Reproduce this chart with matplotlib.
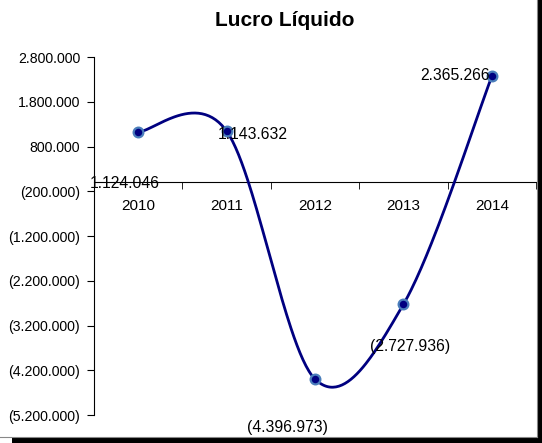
import numpy as np
import matplotlib
matplotlib.use("Agg")
import matplotlib.pyplot as plt
from matplotlib.patches import Rectangle
from matplotlib.lines import Line2D
from matplotlib.ticker import FuncFormatter, FixedLocator

plt.rcParams['font.family'] = ['Liberation Sans', 'DejaVu Sans']

years = ["2010", "2011", "2012", "2013", "2014"]
lucro = [1124046, 1143632, -4396973, -2727936, 2365266]
# where each data label sits, relative to its point (pixels)
label_offsets = [(-13, -52), (26, -3), (-28, -48), (7, -42), (-37, 1)]


def fmt(v):
    s = f"{abs(v):,.0f}".replace(",", ".")
    return f"({s})" if v < 0 else s


# Excel style smoothed line: Bezier segments with Catmull-Rom tangents
def smooth(xs, ys, n=60):
    pts = np.column_stack([xs, ys]).astype(float)
    ext = np.vstack([pts[0], pts, pts[-1]])
    out = []
    for i in range(len(pts) - 1):
        p0, p1 = ext[i + 1], ext[i + 2]
        c1 = p0 + (ext[i + 2] - ext[i]) / 6
        c2 = p1 - (ext[i + 3] - ext[i + 1]) / 6
        t = np.linspace(0, 1, n)[:, None]
        seg = (1 - t)**3 * p0 + 3 * (1 - t)**2 * t * c1 + 3 * (1 - t) * t**2 * c2 + t**3 * p1
        out.append(seg)
    out = np.vstack(out)
    return out[:, 0], out[:, 1]


x = np.arange(len(years))
sx, sy = smooth(x, lucro)

fig = plt.figure(figsize=(5.42, 4.43), dpi=100)
ax = fig.add_axes([94/542, 1 - 415/443, (536 - 94)/542, (415 - 57)/443])

ax.plot(sx, sy, color='#000080', lw=2, zorder=3)
ax.plot(x, lucro, 'o', ms=7, mfc='#000080', mec='#4A7EBB', mew=1.6, zorder=4)

for xi, v, off in zip(x, lucro, label_offsets):
    ax.annotate(fmt(v), (xi, v), xytext=off, textcoords='offset pixels',
                ha='center', va='center', fontsize=11.3, color='black', zorder=5)

ax.set_xlim(-0.5, 4.5)
ax.set_ylim(-5.2e6, 2.8e6)
ax.yaxis.set_major_locator(FixedLocator(np.arange(-5.2e6, 2.9e6, 1e6)))
ax.yaxis.set_major_formatter(FuncFormatter(lambda v, p: fmt(round(v))))
ax.set_xticks(x)
ax.set_xticklabels(years)
ax.set_xticks(np.arange(-0.5, 5, 1), minor=True)

ax.spines['top'].set_visible(False)
ax.spines['right'].set_visible(False)
ax.spines['bottom'].set_position(('data', 0))
ax.tick_params(axis='x', which='major', length=0, labelsize=11, pad=12)
ax.tick_params(axis='x', which='minor', length=5, direction='out')
ax.tick_params(axis='y', length=5, direction='out', labelsize=10.2, pad=5)

fig.text(285/542, 1 - 21/443, "Lucro Líquido", ha='center', va='center',
         fontsize=15, fontweight='bold')

# chart area edge with black shadow on the right and bottom
fig.add_artist(Line2D([537/542, 537/542], [6/443, 1], transform=fig.transFigure,
                      color='#888888', lw=0.8))
fig.add_artist(Line2D([0, 537/542], [6.5/443, 6.5/443], transform=fig.transFigure,
                      color='#888888', lw=0.8))
fig.add_artist(Rectangle((537.5/542, 0), 4.5/542, 1, transform=fig.transFigure,
                         color='black', lw=0))
fig.add_artist(Rectangle((12/542, 0), 530/542, 5.5/443, transform=fig.transFigure,
                         color='black', lw=0))

fig.savefig("out.png", dpi=100)
